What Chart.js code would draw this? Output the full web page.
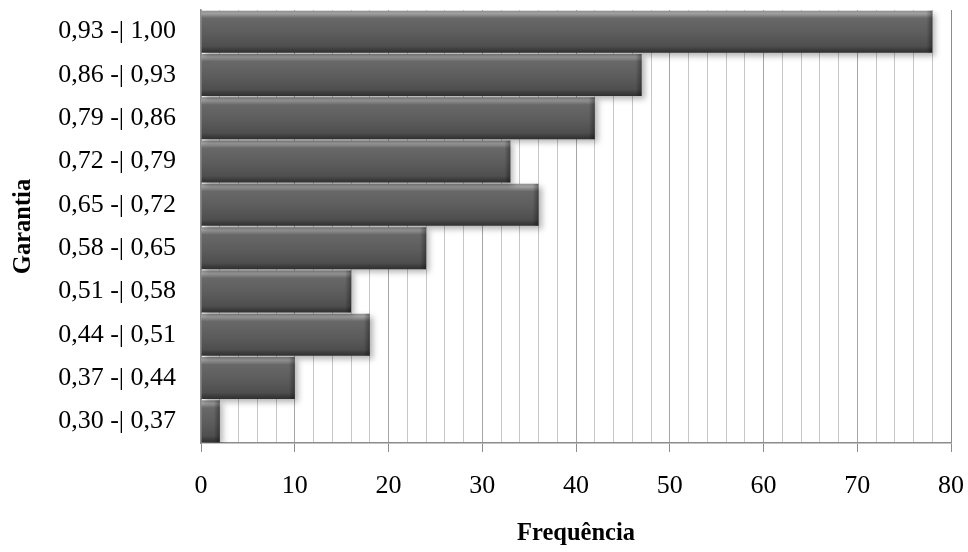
<!DOCTYPE html>
<html>
<head>
<meta charset="utf-8">
<script src="https://cdn.jsdelivr.net/npm/chart.js@4.4.0/dist/chart.umd.min.js"></script>
<style>
  html, body { margin: 0; padding: 0; background: #fff; }
  #wrap { width: 968px; height: 552px; }
</style>
</head>
<body>
<div id="wrap"><canvas id="myChart" width="968" height="552"></canvas></div>
<script>
// class intervals, from lowest to highest
const classes = [
  "0,30 -| 0,37", "0,37 -| 0,44", "0,44 -| 0,51", "0,51 -| 0,58", "0,58 -| 0,65",
  "0,65 -| 0,72", "0,72 -| 0,79", "0,79 -| 0,86", "0,86 -| 0,93", "0,93 -| 1,00"
];
const frequencies = [2, 10, 18, 16, 24, 36, 33, 42, 47, 78];
const xMin = 0;
const xMax = 80;
const xStep = 2; // minor grid every 2, labels every 10
const labelEvery = 10;

const BAR_PCT = 0.97;
const serif = "'Liberation Serif', 'Times New Roman', serif";

// vertical bevel gradient for each bar, built from the category scale
function barGradient(ctx) {
  const chart = ctx.chart;
  const area = chart.chartArea;
  if (!area) return "#555";
  const yScale = chart.scales.y;
  const center = yScale.getPixelForValue(ctx.dataIndex);
  const half = (area.height / classes.length) * BAR_PCT / 2;
  const g = chart.ctx.createLinearGradient(0, center - half, 0, center + half);
  g.addColorStop(0, "#8f8f8f");
  g.addColorStop(0.07, "#a0a0a0");
  g.addColorStop(0.18, "#686868");
  g.addColorStop(0.55, "#5c5c5c");
  g.addColorStop(0.85, "#4e4e4e");
  g.addColorStop(0.93, "#3c3c3c");
  g.addColorStop(1, "#303030");
  return g;
}

// soft drop shadow behind the bars, plus a darker rim at the bar ends
const barShadow = {
  id: "barShadow",
  beforeDatasetsDraw(chart) {
    const c = chart.ctx;
    c.save();
    c.shadowColor = "rgba(0,0,0,0.3)";
    c.shadowBlur = 6;
    c.shadowOffsetX = 3;
    c.shadowOffsetY = 3;
  },
  afterDatasetsDraw(chart) {
    const c = chart.ctx;
    c.restore();
    const meta = chart.getDatasetMeta(0);
    c.save();
    meta.data.forEach((bar) => {
      const { x, y, base, height } = bar.getProps(["x", "y", "base", "height"], true);
      const top = y - height / 2;
      const w = Math.min(6, (x - base) / 2);
      const g = c.createLinearGradient(x - w, 0, x, 0);
      g.addColorStop(0, "rgba(0,0,0,0)");
      g.addColorStop(1, "rgba(0,0,0,0.35)");
      c.fillStyle = g;
      c.fillRect(x - w, top, w, height);
    });
    c.restore();
  }
};

function isMajor(value) {
  return value % labelEvery === 0;
}

new Chart("myChart", {
  type: "bar",
  data: {
    labels: classes,
    datasets: [{
      data: frequencies,
      backgroundColor: barGradient,
      borderWidth: 0,
      barPercentage: BAR_PCT,
      categoryPercentage: 1
    }]
  },
  plugins: [barShadow],
  options: {
    indexAxis: "y",
    responsive: false,
    animation: false,
    events: [],
    layout: { padding: { top: 10, right: 17, left: 0, bottom: 0 } },
    plugins: {
      legend: { display: false },
      tooltip: { enabled: false }
    },
    scales: {
      x: {
        min: xMin,
        max: xMax,
        afterFit: (s) => {
          s.height = 109;
          s.paddingLeft = 0;
          s.paddingRight = 0;
        },
        ticks: {
          stepSize: xStep,
          autoSkip: false,
          maxRotation: 0,
          padding: 19,
          color: "#000",
          font: { family: serif, size: 26 },
          callback: (v) => (isMajor(v) ? String(v) : "")
        },
        grid: {
          drawOnChartArea: true,
          drawTicks: true,
          tickLength: 9,
          lineWidth: 1,
          color: (ctx) => {
            const v = ctx.tick ? ctx.tick.value : 0;
            if (v === xMax) return "#8c8c8c";
            return isMajor(v) ? "#a6a6a6" : "#c6c6c6";
          },
          tickColor: (ctx) => (ctx.tick && isMajor(ctx.tick.value) ? "#8c8c8c" : "rgba(0,0,0,0)")
        },
        border: { display: true, color: "#8c8c8c", width: 1.5 },
        title: {
          display: true,
          text: "Frequência",
          color: "#000",
          font: { family: serif, size: 24.5, weight: "bold" },
          padding: { top: 0, bottom: 4 }
        }
      },
      y: {
        reverse: true,
        afterFit: (s) => {
          s.width = 201;
          s.paddingTop = 0;
          s.paddingBottom = 0;
        },
        ticks: {
          padding: 25,
          color: "#000",
          font: { family: serif, size: 26 }
        },
        grid: { display: false, drawTicks: false },
        border: { display: true, color: "#8c8c8c", width: 1.5 },
        title: {
          display: true,
          text: "Garantia",
          color: "#000",
          font: { family: serif, size: 24.5, weight: "bold" },
          padding: { top: 9, bottom: 0 }
        }
      }
    }
  }
});
</script>
</body>
</html>
